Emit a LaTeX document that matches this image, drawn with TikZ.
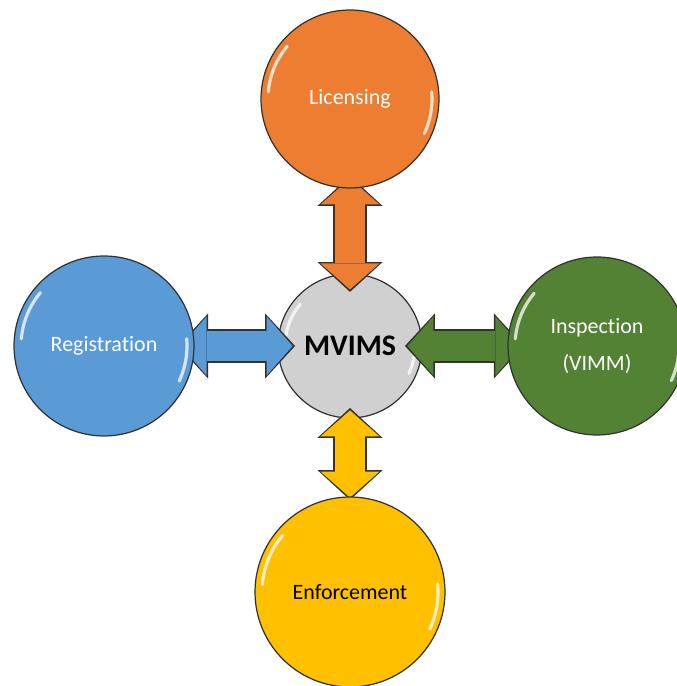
\documentclass[tikz,border=0pt]{standalone}
\usepackage{fontspec}
\setmainfont{Carlito}[Ligatures=NoCommon]
\usetikzlibrary{arrows.meta, positioning, calc}
\definecolor{licorange}{RGB}{237,125,49}
\definecolor{regblue}{RGB}{91,155,213}
\definecolor{inspgreen}{RGB}{84,130,53}
\definecolor{enfyellow}{RGB}{255,192,0}
\definecolor{hubgray}{RGB}{209,208,208}
\definecolor{rimgray}{RGB}{50,50,50}
\pgfdeclarelayer{bottom}
\pgfdeclarelayer{middle}
\pgfsetlayers{bottom,middle,main}
\tikzset{
  bubble/.style={circle, draw=rimgray, line width=0.7pt, fill=#1,
    inner sep=0pt, outer sep=0pt, align=center,
    font=\fontsize{12.5}{21}\selectfont},
  hub/.style={bubble=hubgray, minimum size=2.88cm,
    font=\fontsize{17}{20}\selectfont\bfseries},
  shine/.style={white, line width=1.8pt, opacity=0.75, line cap=round},
  rimarrow/.style={draw=rimgray, line width=19pt,
    arrows={Triangle[width=37pt,length=17pt,line width=0pt]-Triangle[width=37pt,length=17pt,line width=0pt]}},
  corearrow/.style={draw=#1, line width=17.2pt,
    arrows={Triangle[width=33.6pt,length=14.8pt,line width=0pt]-Triangle[width=33.6pt,length=14.8pt,line width=0pt]}}
}
\begin{document}
\begin{tikzpicture}[x=0.02cm, y=0.02cm]
  \useasboundingbox (0,0) rectangle (676,686);
  % hub
  \begin{pgfonlayer}{bottom}
    \node[hub] (mv) at (350,340) {MVIMS};
    \draw[shine] (mv.center) ++(140:65) arc[start angle=140, end angle=175, radius=65];
    \draw[shine] (mv.center) ++(-25:65) arc[start angle=-25, end angle=5, radius=65];
  \end{pgfonlayer}
  % outer circles
  \node[bubble=licorange, minimum size=3.56cm, text=white] (lic) at (350,587) {Licensing};
  \node[bubble=regblue, minimum size=3.6cm, text=white] (reg) at (104,340) {Registration};
  \node[bubble=inspgreen, minimum size=3.56cm, text=white] (insp) at (597,340) {Inspection\\(VIMM)};
  \node[bubble=enfyellow, minimum size=3.8cm, text=black] (enf) at (350,94) {Enforcement};
  \foreach \n/\r in {lic/89, reg/90, insp/89, enf/95}{
    \draw[shine] (\n.center) ++(140:{\r-7}) arc[start angle=140, end angle=175, radius=\r-7];
    \draw[shine] (\n.center) ++(-25:{\r-7}) arc[start angle=-25, end angle=5, radius=\r-7];
  }
  % double arrows
  \begin{pgfonlayer}{middle}
    \foreach \from/\to/\col/\sa/\sb in {lic.south/mv.north/licorange/6.8pt/10.2pt,
        reg.east/mv.west/regblue/9pt/9.7pt, mv.east/insp.west/inspgreen/9.7pt/9pt,
        mv.south/enf.north/enfyellow/5.7pt/1.7pt}{
      \draw[rimarrow, shorten <=-\sa, shorten >=-\sb] (\from) -- (\to);
      \draw[corearrow=\col, shorten <=1.4pt-\sa, shorten >=1.4pt-\sb] (\from) -- (\to);
    }
  \end{pgfonlayer}
\end{tikzpicture}
\end{document}
